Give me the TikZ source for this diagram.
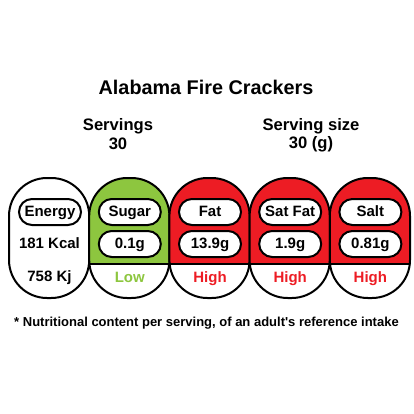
\documentclass[tikz,border=0pt]{standalone}
\usepackage{fontspec}
\setmainfont{Liberation Sans}
\usetikzlibrary{shapes.misc}
\definecolor{lowgreen}{RGB}{141,198,63}
\definecolor{highred}{RGB}{237,28,36}
\begin{document}
\begin{tikzpicture}[x=1pt,y=-1pt,
  cardline/.style={draw=black, line width=2pt, rounded corners=38pt},
  pill/.style={draw=black, line width=2pt, fill=white, rounded rectangle,
    minimum width=62pt, minimum height=26pt, inner sep=0pt,
    text height=11pt, text depth=3pt, font=\bfseries\fontsize{15}{15}\selectfont},
  val/.style={inner sep=0pt, text height=11pt, text depth=3pt,
    font=\bfseries\fontsize{15}{15}\selectfont},
  head/.style={inner sep=0pt, font=\bfseries\fontsize{16.6}{18}\selectfont}]
\useasboundingbox (0,0) rectangle (414,414);

% title and header
\node[inner sep=0pt, font=\bfseries\fontsize{19.8}{22}\selectfont] (title) at (206,87) {Alabama Fire Crackers};
\node[head] (servL) at (118,126) {Servings};
\node[head] (servV) at (118,144) {30};
\node[head] (sizeL) at (311,126) {Serving size};
\node[head] (sizeV) at (311,144) {30 (g)};

% energy card
\draw[cardline] (9,178) rectangle (89.2,298);
\node[pill] (energy) at (50,212) {Energy};
\node[val] (kcal) at (49.5,244) {181 Kcal};
\node[val] (kj) at (49.5,277) {758 Kj};

% nutrient cards
\foreach \i/\col/\nm/\va/\lv in {1/lowgreen/Sugar/0.1g/Low, 2/highred/Fat/13.9g/High, 3/highred/Sat Fat/1.9g/High, 4/highred/Salt/0.81g/High}{
  \pgfmathsetmacro{\xa}{9+80.2*\i}
  \pgfmathsetmacro{\xb}{\xa+80.2}
  \pgfmathsetmacro{\xc}{\xa+40.6}
  \begin{scope}
    \clip[rounded corners=38pt] (\xa,178) rectangle (\xb,298);
    \fill[\col] (\xa,170) rectangle (\xb,264);
  \end{scope}
  \coordinate (dl\i) at (\xa,264);
  \coordinate (dr\i) at (\xb,264);
  \draw[line width=1.6pt] (dl\i) -- (dr\i);
  \draw[cardline] (\xa,178) rectangle (\xb,298);
  \node[pill] (name\i) at (\xc,212) {\nm};
  \node[pill] (value\i) at (\xc,244) {\va};
  \node[val, text=\col] (level\i) at (\xc,278) {\lv};
}

% footnote
\node[inner sep=0pt, font=\bfseries\fontsize{13}{15}\selectfont] (note) at (206.5,323) {* Nutritional content per serving, of an adult\textquotesingle s reference intake};
\end{tikzpicture}
\end{document}
